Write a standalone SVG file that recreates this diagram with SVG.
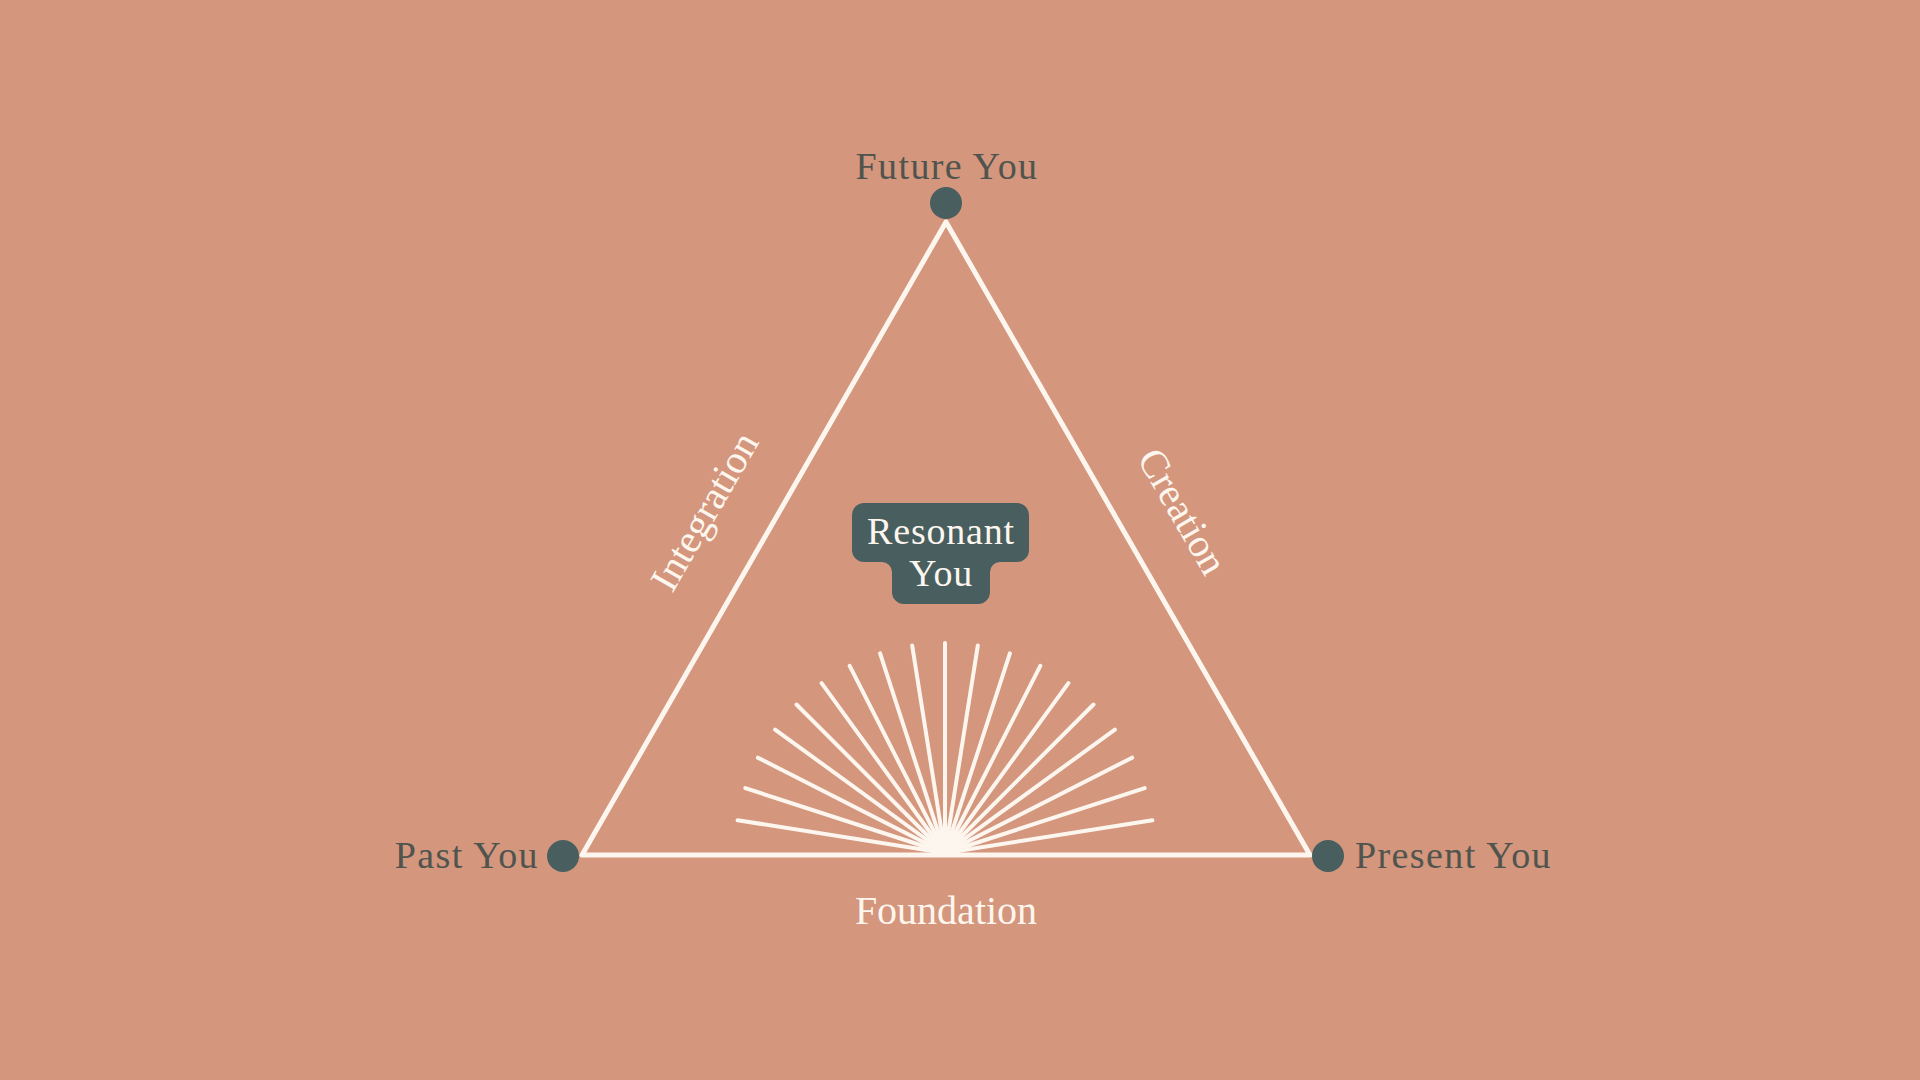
<svg xmlns="http://www.w3.org/2000/svg" width="1920" height="1080" viewBox="0 0 1920 1080">
  <defs>
    <style>
      .vtx { font-family: "Liberation Serif", "DejaVu Serif", serif; font-size: 38px; letter-spacing: 1.4px; fill: #4f544e; }
      .edge { font-family: "Liberation Serif", "DejaVu Serif", serif; font-size: 40px; fill: #fdf6ee; }
      .ctr { font-family: "Liberation Serif", "DejaVu Serif", serif; font-size: 38px; letter-spacing: 0.8px; fill: #fdf6ee; }
      .dot { fill: #485e5f; }
      .ray { stroke: #fdf6ee; stroke-width: 4; stroke-linecap: round; fill: none; }
      .tri { stroke: #fdf6ee; stroke-width: 5; stroke-linejoin: round; fill: none; }
    </style>
  </defs>
  <rect x="0" y="0" width="1920" height="1080" fill="#d4967d"/>

  <g id="connectors">
    <polygon class="tri" points="946,222 582,855 1310,855"/>
    <text class="edge" transform="translate(716,518) rotate(-60)" text-anchor="middle">Integration</text>
    <text class="edge" transform="translate(1171,518) rotate(60)" text-anchor="middle">Creation</text>
    <text class="edge" x="946" y="924" text-anchor="middle">Foundation</text>
  </g>

  <g id="sunburst">
    <line class="ray" x1="945" y1="853" x2="737.6" y2="820.2"/>
    <line class="ray" x1="945" y1="853" x2="745.3" y2="788.1"/>
    <line class="ray" x1="945" y1="853" x2="757.9" y2="757.7"/>
    <line class="ray" x1="945" y1="853" x2="775.1" y2="729.6"/>
    <line class="ray" x1="945" y1="853" x2="796.5" y2="704.5"/>
    <line class="ray" x1="945" y1="853" x2="821.6" y2="683.1"/>
    <line class="ray" x1="945" y1="853" x2="849.7" y2="665.9"/>
    <line class="ray" x1="945" y1="853" x2="880.1" y2="653.3"/>
    <line class="ray" x1="945" y1="853" x2="912.2" y2="645.6"/>
    <line class="ray" x1="945" y1="853" x2="945" y2="643"/>
    <line class="ray" x1="945" y1="853" x2="977.8" y2="645.6"/>
    <line class="ray" x1="945" y1="853" x2="1009.9" y2="653.3"/>
    <line class="ray" x1="945" y1="853" x2="1040.3" y2="665.9"/>
    <line class="ray" x1="945" y1="853" x2="1068.4" y2="683.1"/>
    <line class="ray" x1="945" y1="853" x2="1093.5" y2="704.5"/>
    <line class="ray" x1="945" y1="853" x2="1114.9" y2="729.6"/>
    <line class="ray" x1="945" y1="853" x2="1132.1" y2="757.7"/>
    <line class="ray" x1="945" y1="853" x2="1144.7" y2="788.1"/>
    <line class="ray" x1="945" y1="853" x2="1152.4" y2="820.2"/>
  </g>

  <g id="future-you">
    <circle class="dot" cx="946" cy="203" r="16"/>
    <text class="vtx" x="947" y="179" text-anchor="middle">Future You</text>
  </g>

  <g id="past-you">
    <circle class="dot" cx="563" cy="856" r="16"/>
    <text class="vtx" x="539" y="868" text-anchor="end">Past You</text>
  </g>

  <g id="present-you">
    <circle class="dot" cx="1328" cy="856" r="16"/>
    <text class="vtx" x="1355" y="868">Present You</text>
  </g>

  <g id="resonant-you">
    <path fill="#485e5f" d="M 864 503 H 1017 A 12 12 0 0 1 1029 515 V 550 A 12 12 0 0 1 1017 562 H 1000 A 10 10 0 0 0 990 572 V 592 A 12 12 0 0 1 978 604 H 904 A 12 12 0 0 1 892 592 V 572 A 10 10 0 0 0 882 562 H 864 A 12 12 0 0 1 852 550 V 515 A 12 12 0 0 1 864 503 Z"/>
    <text class="ctr" x="941" y="544" text-anchor="middle">Resonant</text>
    <text class="ctr" x="941" y="586" text-anchor="middle">You</text>
  </g>
</svg>
